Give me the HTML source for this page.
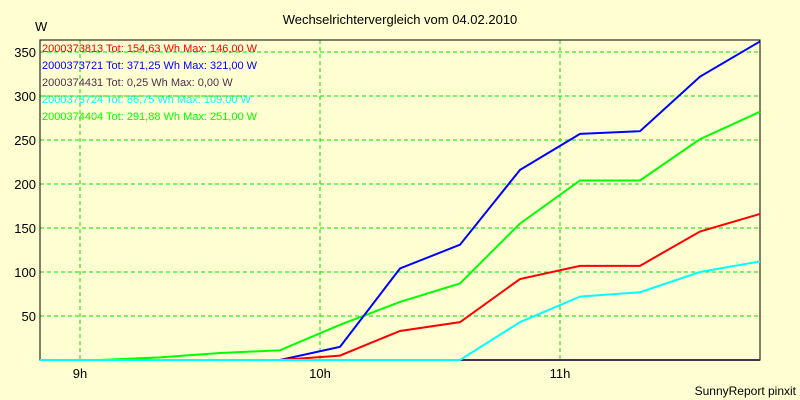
<!DOCTYPE html>
<html><head><meta charset="utf-8"><style>
body{margin:0;background:#ffffd2;}
svg{display:block;font-family:"Liberation Sans",sans-serif;}
</style></head><body>
<svg id="c" width="800" height="400">
<rect width="800" height="400" fill="#ffffd2"/>
<text x="400" y="24" text-anchor="middle" font-size="13">Wechselrichtervergleich vom 04.02.2010</text>
<text x="35" y="31" font-size="13">W</text>
<text x="796" y="395" text-anchor="end" font-size="12">SunnyReport pinxit</text>
<g id="grid"></g><g id="axes"></g><g id="series"></g><g id="legend"></g>
</svg>
<script>
const timeLabels=["8:50","9:05","9:20","9:35","9:50","10:05","10:20","10:35","10:50","11:05","11:20","11:35","11:50"];
const xTickLabels=["9h","10h","11h"];
const xTickHours=[9,10,11];
const yTicks=[50,100,150,200,250,300,350];
const seriesNames=["2000373813","2000373721","2000374431","2000373724","2000374404"];
const seriesLegend=["Tot: 154,63 Wh Max: 146,00 W","Tot: 371,25 Wh Max: 321,00 W","Tot: 0,25 Wh Max: 0,00 W","Tot: 86,75 Wh Max: 109,00 W","Tot: 291,88 Wh Max: 251,00 W"];
const seriesColors=["#ff0000","#0000ff","#4a3050","#00ffff","#00ff00"];
const redVals=[0,0,0,0,0,5,33,43,92,107,107,146,166];
const blueVals=[0,0,0,0,0,15,104,131,216,257,260,322,362];
const darkVals=[0,0,0,0,0,0,0,0,0,0,0,0,0];
const cyanVals=[0,0,0,0,0,0,0,0,43,72,77,100,112];
const greenVals=[0,0,3,8,11,40,66,87,155,204,204,251,282];
const seriesVals=[redVals,blueVals,darkVals,cyanVals,greenVals];
const drawOrder=[4,1,0,2,3];
const NS="http://www.w3.org/2000/svg";
const L=40,R=760,T=40,B=360;
function hours(t){const p=t.split(":");return +p[0]+p[1]/60;}
function xs(h){return 80+(h-9)*240;}
function ys(v){return B-v*0.88;}
function mk(tag,attrs,parent){const e=document.createElementNS(NS,tag);for(const k in attrs)e.setAttribute(k,attrs[k]);document.getElementById(parent).appendChild(e);return e;}
yTicks.forEach((v,i)=>{
 const g=mk("line",{x1:L,x2:R,y1:ys(v),y2:ys(v),stroke:"#00e000","stroke-dasharray":"4,3"},"grid");
 
 
 const t=mk("text",{x:L-4,y:ys(v)+5,"text-anchor":"end","font-size":"13"},"axes");
 t.textContent=v;
 
 
});
xTickHours.forEach((h,i)=>{
 const g=mk("line",{x1:xs(h),x2:xs(h),y1:T,y2:B,stroke:"#00e000","stroke-dasharray":"4,3"},"grid");
 
 
 const t=mk("text",{x:xs(h),y:B+18,"text-anchor":"middle","font-size":"13"},"axes");
 t.textContent=xTickLabels[i];
 
 
});
const frame=mk("rect",{x:L,y:T,width:R-L,height:B-T,fill:"none",stroke:"#000"},"axes");


drawOrder.forEach(si=>{
 const pts=seriesVals[si].map((v,i)=>xs(hours(timeLabels[i]))+","+ys(v)).join(" ");
 const p=mk("polyline",{points:pts,fill:"none",stroke:seriesColors[si],"stroke-width":"2"},"series");
 
 
});
seriesNames.forEach((n,i)=>{
 const t=mk("text",{x:42,y:52+i*17,"font-size":"11",fill:seriesColors[i]},"legend");
 t.textContent=n+" "+seriesLegend[i];
 
 
 if(i===3){const s=mk("line",{x1:42,x2:246,y1:ys(300),y2:ys(300),stroke:"#00e000","stroke-dasharray":"4,3"},"legend");
 
 }
});
</script>
</body></html>
